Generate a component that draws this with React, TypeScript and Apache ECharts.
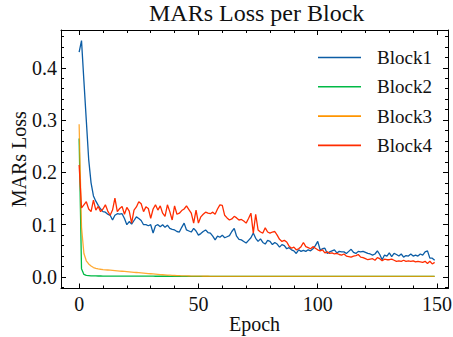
import React, { useEffect, useRef } from "react";
import * as echarts from "echarts";

const seriesNames = ["Block1", "Block2", "Block3", "Block4"];
const seriesColors = ["#0C5DA5", "#00B945", "#FF9500", "#FF2C00"];

const block1 = [
  0.430, 0.452, 0.375, 0.300, 0.225, 0.180, 0.155, 0.145, 0.137, 0.130,
  0.125, 0.124, 0.120, 0.118, 0.109, 0.118, 0.121, 0.120, 0.121, 0.112,
  0.100, 0.106, 0.101, 0.108, 0.115, 0.112, 0.108, 0.100, 0.100, 0.098,
  0.100, 0.084, 0.098, 0.100, 0.096, 0.100, 0.095, 0.099, 0.093, 0.091,
  0.090, 0.087, 0.086, 0.095, 0.103, 0.090, 0.088, 0.086, 0.093, 0.088,
  0.080, 0.083, 0.087, 0.090, 0.085, 0.084, 0.078, 0.071, 0.078, 0.076,
  0.080, 0.075, 0.077, 0.079, 0.087, 0.093, 0.078, 0.072, 0.071, 0.068,
  0.065, 0.070, 0.075, 0.084, 0.074, 0.068, 0.073, 0.066, 0.063, 0.070,
  0.068, 0.062, 0.066, 0.063, 0.057, 0.062, 0.060, 0.054, 0.056, 0.052,
  0.050, 0.045, 0.052, 0.049, 0.051, 0.049, 0.052, 0.050, 0.054, 0.060,
  0.068, 0.052, 0.054, 0.055, 0.045, 0.048, 0.050, 0.052, 0.046, 0.049,
  0.048, 0.048, 0.045, 0.049, 0.053, 0.047, 0.045, 0.049, 0.048, 0.049,
  0.047, 0.045, 0.044, 0.042, 0.044, 0.050, 0.043, 0.033, 0.042, 0.040,
  0.046, 0.039, 0.045, 0.043, 0.040, 0.044, 0.038, 0.041, 0.040, 0.044,
  0.040, 0.042, 0.040, 0.044, 0.042, 0.048, 0.050, 0.036, 0.036, 0.032,
];

const block2 = [
  0.265, 0.016, 0.005, 0.003, 0.0025, 0.002, 0.002, 0.002, 0.0019, 0.0019,
  0.0018, 0.0018, 0.0018, 0.0017, 0.0017, 0.0017, 0.0016, 0.0016, 0.0016, 0.0016,
  0.0015, 0.0015, 0.0015, 0.0015, 0.0015, 0.0015, 0.0015, 0.0015, 0.0015, 0.0015,
  0.0015, 0.0015, 0.0014, 0.0014, 0.0014, 0.0014, 0.0014, 0.0014, 0.0013, 0.0013,
  0.0013, 0.0013, 0.0013, 0.0013, 0.0013, 0.0013, 0.0013, 0.0013, 0.0013, 0.0013,
  0.0012, 0.0012, 0.0012, 0.0012, 0.0012, 0.0012, 0.0012, 0.0012, 0.0012, 0.0012,
  0.0012, 0.0012, 0.0012, 0.0012, 0.0012, 0.0011, 0.0011, 0.0011, 0.0011, 0.0011,
  0.0011, 0.0011, 0.0011, 0.0011, 0.0011, 0.0011, 0.0011, 0.0011, 0.0011, 0.0011,
  0.0011, 0.0011, 0.0011, 0.0011, 0.0011, 0.0010, 0.0010, 0.0010, 0.0010, 0.0010,
  0.0010, 0.0010, 0.0010, 0.0010, 0.0010, 0.0010, 0.0010, 0.0010, 0.0010, 0.0010,
  0.0010, 0.0010, 0.0010, 0.0010, 0.0010, 0.0010, 0.0010, 0.0010, 0.0010, 0.0010,
  0.0010, 0.0010, 0.0010, 0.0010, 0.0010, 0.0010, 0.0010, 0.0010, 0.0010, 0.0010,
  0.0010, 0.0010, 0.0010, 0.0010, 0.0010, 0.0010, 0.0010, 0.0010, 0.0010, 0.0010,
  0.0010, 0.0010, 0.0010, 0.0010, 0.0010, 0.0010, 0.0010, 0.0010, 0.0010, 0.0010,
  0.0010, 0.0010, 0.0010, 0.0010, 0.0010, 0.0010, 0.0010, 0.0010, 0.0010, 0.0010,
];

const block3 = [
  0.292, 0.095, 0.045, 0.031, 0.025, 0.021, 0.018, 0.0165, 0.0155, 0.0148,
  0.0142, 0.0138, 0.0134, 0.0130, 0.0126, 0.0122, 0.0118, 0.0114, 0.0110, 0.0106,
  0.0102, 0.0098, 0.0094, 0.0090, 0.0086, 0.0082, 0.0078, 0.0074, 0.0070, 0.0066,
  0.0062, 0.0058, 0.0054, 0.0050, 0.0046, 0.0043, 0.0040, 0.0037, 0.0034, 0.0031,
  0.0029, 0.0027, 0.0025, 0.0023, 0.0021, 0.0020, 0.0019, 0.0018, 0.0017, 0.0016,
  0.0015, 0.0015, 0.0014, 0.0014, 0.0014, 0.0013, 0.0013, 0.0013, 0.0013, 0.0012,
  0.0012, 0.0012, 0.0012, 0.0012, 0.0012, 0.0012, 0.0011, 0.0011, 0.0011, 0.0011,
  0.0011, 0.0011, 0.0011, 0.0011, 0.0011, 0.0011, 0.0011, 0.0011, 0.0011, 0.0011,
  0.0011, 0.0011, 0.0011, 0.0010, 0.0010, 0.0010, 0.0010, 0.0010, 0.0010, 0.0010,
  0.0010, 0.0010, 0.0010, 0.0010, 0.0010, 0.0010, 0.0010, 0.0010, 0.0010, 0.0010,
  0.0010, 0.0010, 0.0010, 0.0010, 0.0010, 0.0010, 0.0010, 0.0010, 0.0010, 0.0010,
  0.0010, 0.0010, 0.0010, 0.0010, 0.0010, 0.0010, 0.0010, 0.0010, 0.0010, 0.0010,
  0.0010, 0.0010, 0.0010, 0.0010, 0.0010, 0.0010, 0.0010, 0.0010, 0.0010, 0.0010,
  0.0010, 0.0010, 0.0010, 0.0010, 0.0010, 0.0010, 0.0010, 0.0010, 0.0010, 0.0010,
  0.0010, 0.0010, 0.0010, 0.0010, 0.0010, 0.0010, 0.0010, 0.0010, 0.0010, 0.0010,
];

const block4 = [
  0.214, 0.132, 0.138, 0.144, 0.130, 0.125, 0.147, 0.128, 0.135, 0.125,
  0.130, 0.138, 0.126, 0.118, 0.128, 0.151, 0.125, 0.131, 0.135, 0.120,
  0.133, 0.126, 0.103, 0.128, 0.134, 0.144, 0.140, 0.125, 0.134, 0.131,
  0.112, 0.130, 0.138, 0.128, 0.136, 0.122, 0.116, 0.138, 0.125, 0.109,
  0.136, 0.120, 0.122, 0.127, 0.130, 0.136, 0.129, 0.122, 0.103, 0.128,
  0.103, 0.115, 0.120, 0.124, 0.122, 0.121, 0.124, 0.120, 0.130, 0.138,
  0.137, 0.118, 0.113, 0.109, 0.111, 0.116, 0.113, 0.109, 0.110, 0.107,
  0.103, 0.112, 0.122, 0.084, 0.120, 0.090, 0.086, 0.084, 0.094, 0.086,
  0.084, 0.086, 0.087, 0.080, 0.072, 0.068, 0.070, 0.067, 0.059, 0.055,
  0.057, 0.052, 0.054, 0.058, 0.066, 0.058, 0.056, 0.054, 0.058, 0.055,
  0.052, 0.050, 0.052, 0.046, 0.048, 0.045, 0.046, 0.044, 0.045, 0.043,
  0.042, 0.044, 0.040, 0.039, 0.038, 0.040, 0.041, 0.043, 0.038, 0.037,
  0.035, 0.033, 0.034, 0.035, 0.032, 0.037, 0.035, 0.031, 0.034, 0.033,
  0.033, 0.034, 0.032, 0.030, 0.031, 0.030, 0.032, 0.030, 0.031, 0.030,
  0.031, 0.029, 0.030, 0.029, 0.028, 0.030, 0.026, 0.030, 0.025, 0.028,
];

const xMajorTicks = [0, 50, 100, 150];
const xMinorTicks = [10, 20, 30, 40, 60, 70, 80, 90, 110, 120, 130, 140];
const yMajorTicks = [0, 0.1, 0.2, 0.3, 0.4];
const yMinorTicks = [
  -0.02, 0.02, 0.04, 0.06, 0.08, 0.12, 0.14, 0.16, 0.18, 0.22, 0.24, 0.26,
  0.28, 0.32, 0.34, 0.36, 0.38, 0.42, 0.44, 0.46,
];

const X_MIN = -7.6;
const X_MAX = 154.6;
const Y_MIN = -0.022;
const Y_MAX = 0.4723;

const FONT = '"Liberation Serif", "Times New Roman", serif';
const INK = "#111";

function xAxis(position: string, ticks: number[], len: number, main: boolean, labels: boolean) {
  return {
    type: "value",
    min: X_MIN,
    max: X_MAX,
    position,
    axisLine: main
      ? { show: true, onZero: false, lineStyle: { color: "#000", width: 1 } }
      : { show: false, onZero: false },
    axisTick: {
      show: true,
      inside: true,
      length: len,
      customValues: ticks,
      lineStyle: { color: "#000", width: 1 },
    },
    axisLabel: labels
      ? {
          show: true,
          customValues: ticks,
          margin: 5,
          color: INK,
          fontFamily: FONT,
          fontSize: 20,
        }
      : { show: false },
    splitLine: { show: false },
    ...(labels
      ? {
          name: "Epoch",
          nameLocation: "middle",
          nameGap: 25,
          nameMoveOverlap: false,
          nameTextStyle: { color: INK, fontFamily: FONT, fontSize: 20 },
        }
      : {}),
  };
}

function yAxis(position: string, ticks: number[], len: number, main: boolean, labels: boolean) {
  return {
    type: "value",
    min: Y_MIN,
    max: Y_MAX,
    position,
    axisLine: main
      ? { show: true, onZero: false, lineStyle: { color: "#000", width: 1 } }
      : { show: false, onZero: false },
    axisTick: {
      show: true,
      inside: true,
      length: len,
      customValues: ticks,
      lineStyle: { color: "#000", width: 1 },
    },
    axisLabel: labels
      ? {
          show: true,
          customValues: ticks,
          margin: 4,
          color: INK,
          fontFamily: FONT,
          fontSize: 20,
          formatter: (v: number) => v.toFixed(1),
        }
      : { show: false },
    splitLine: { show: false },
    ...(labels
      ? {
          name: "MARs Loss",
          nameLocation: "middle",
          nameGap: 32,
          nameMoveOverlap: false,
          nameTextStyle: { color: INK, fontFamily: FONT, fontSize: 20 },
        }
      : {}),
  };
}

const allSeries = [block1, block2, block3, block4];

export default function App() {
  const ref = useRef<HTMLDivElement>(null);
  useEffect(() => {
    if (!ref.current) return;
    const chart = echarts.init(ref.current, null, { renderer: "svg" });
    chart.setOption({
      animation: false,
      backgroundColor: "#fff",
      title: {
        text: "MARs Loss per Block",
        left: 149,
        top: 1,
        padding: 0,
        textStyle: { color: INK, fontFamily: FONT, fontSize: 24, fontWeight: "normal" },
      },
      legend: {
        orient: "vertical",
        left: 318,
        top: 48,
        icon: "rect",
        itemWidth: 43,
        itemHeight: 1.6,
        itemGap: 10.3,
        padding: 0,
        data: seriesNames,
        textStyle: {
          color: INK,
          fontFamily: FONT,
          fontSize: 19,
          lineHeight: 19,
          padding: [0, 0, 0, 11],
        },
      },
      grid: { left: 61, right: 5, top: 30, bottom: 48.5, outerBoundsMode: "none", containLabel: false },
      xAxis: [
        xAxis("bottom", xMajorTicks, 5, true, true),
        xAxis("top", xMajorTicks, 5, true, false),
        xAxis("bottom", xMinorTicks, 3, false, false),
        xAxis("top", xMinorTicks, 3, false, false),
      ],
      yAxis: [
        yAxis("left", yMajorTicks, 5, true, true),
        yAxis("right", yMajorTicks, 5, true, false),
        yAxis("left", yMinorTicks, 3, false, false),
        yAxis("right", yMinorTicks, 3, false, false),
      ],
      series: allSeries.map((vals, k) => ({
        name: seriesNames[k],
        type: "line",
        xAxisIndex: 0,
        yAxisIndex: 0,
        symbol: "none",
        color: seriesColors[k],
        lineStyle: { width: 1.3, color: seriesColors[k], opacity: k === 2 ? 0.8 : 1 },
        data: vals.map((v, i) => [i, v]),
      })),
    });
    return () => chart.dispose();
  }, []);
  return (
    <div
      ref={ref}
      style={{ position: "fixed", left: 0, top: 0, width: 453, height: 337, background: "#fff" }}
    />
  );
}
